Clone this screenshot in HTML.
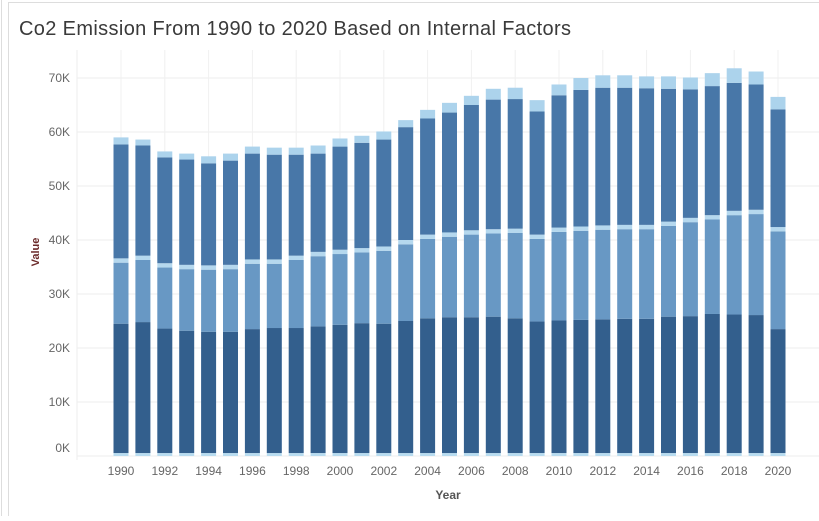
<!DOCTYPE html>
<html><head><meta charset="utf-8"><style>
body{margin:0;background:#fff;width:819px;height:516px;overflow:hidden;font-family:"Liberation Sans",sans-serif}
</style></head><body>
<svg width="819" height="516">
<line x1="1.5" y1="0" x2="1.5" y2="516" stroke="#ddd"/>
<line x1="8.5" y1="2" x2="8.5" y2="516" stroke="#ddd"/>
<line x1="8" y1="2.5" x2="819" y2="2.5" stroke="#ddd"/>
<text x="19" y="35" font-size="20" fill="#3a3a3a" textLength="552" lengthAdjust="spacing">Co2 Emission From 1990 to 2020 Based on Internal Factors</text>
<g id="grid"></g><g id="bars"></g><g id="axes"></g>
<text x="448" y="499" font-size="12" font-weight="bold" fill="#555" text-anchor="middle">Year</text>
<text transform="translate(39,252) rotate(-90)" font-size="11" font-weight="bold" fill="#6b2b2b" text-anchor="middle">Value</text>
</svg>
<script>
const years=[];for(let y=1990;y<=2020;y++)years.push(y);
const seriesBase=[0.55,0.55,0.55,0.55,0.55,0.55,0.55,0.55,0.55,0.55,0.55,0.55,0.55,0.55,0.55,0.55,0.55,0.55,0.55,0.55,0.55,0.55,0.55,0.55,0.55,0.55,0.55,0.55,0.55,0.55,0.55];
const seriesDark=[23.95,24.25,23.05,22.65,22.45,22.45,22.95,23.15,23.15,23.45,23.75,24.05,23.95,24.45,24.95,25.15,25.15,25.25,24.95,24.35,24.55,24.65,24.75,24.85,24.85,25.25,25.35,25.75,25.65,25.55,22.95];
const seriesMid=[11.3,11.5,11.3,11.4,11.5,11.6,12.1,11.9,12.6,13.0,13.1,13.1,13.5,14.2,14.7,14.9,15.3,15.4,15.8,15.3,16.4,16.5,16.6,16.6,16.6,16.8,17.4,17.5,18.4,18.7,18.1];
const seriesThin=[0.8,0.8,0.8,0.8,0.8,0.8,0.8,0.8,0.8,0.8,0.8,0.8,0.8,0.8,0.8,0.8,0.8,0.8,0.8,0.8,0.8,0.8,0.8,0.8,0.8,0.8,0.8,0.8,0.8,0.8,0.8];
const seriesBig=[21.1,20.4,19.6,19.5,18.9,19.3,19.6,19.4,18.7,18.2,19.1,19.5,19.8,20.9,21.5,22.2,23.2,24,24,22.8,24.5,25.3,25.5,25.4,25.3,24.6,23.8,23.9,23.7,23.2,21.8];
const seriesTop=[1.3,1.1,1.1,1.1,1.3,1.3,1.3,1.3,1.3,1.5,1.5,1.3,1.5,1.3,1.6,1.8,1.7,2,2.1,2.1,2,2.2,2.3,2.3,2.2,2.3,2.2,2.4,2.7,2.4,2.3];
const yTicks=[0,10,20,30,40,50,60,70];
const NS="http://www.w3.org/2000/svg";
const y=v=>456-v*5.4, x=i=>121+i*21.9;
function mk(t,a,p){const e=document.createElementNS(NS,t);for(const k in a)e.setAttribute(k,a[k]);p.appendChild(e);return e;}
const grid=document.getElementById('grid'),bars=document.getElementById('bars'),axes=document.getElementById('axes');
yTicks.forEach(t=>{const l=mk('line',{x1:77,x2:819,y1:y(t),y2:y(t),stroke:'#eee'},grid);


const tx=mk('text',{x:70,y:t===0?452:y(t)+4,'font-size':12,fill:'#666','text-anchor':'end'},axes);tx.textContent=t+'K';

});
years.forEach((yr,i)=>{if(i%2===0){const l=mk('line',{x1:x(i),x2:x(i),y1:50,y2:456,stroke:'#f0f0f0'},grid);


const tx=mk('text',{x:x(i),y:475,'font-size':12,fill:'#666','text-anchor':'middle'},axes);tx.textContent=yr;

}});
const l0=mk('line',{x1:77,x2:77,y1:50,y2:460,stroke:'#eee'},grid);


const series=[[seriesBase,'#b8dcf0'],[seriesDark,'#335f8d'],[seriesMid,'#6898c4'],[seriesThin,'#b5d8ee'],[seriesBig,'#4877a8'],[seriesTop,'#acd3ec']];
years.forEach((yr,i)=>{let c=0;series.forEach(([arr,col],si)=>{const v=arr[i];const r=mk('rect',{x:x(i)-7.5,y:y(c+v),width:15,height:v*5.4,fill:col},bars);


c+=v;});});
</script>
</body></html>
